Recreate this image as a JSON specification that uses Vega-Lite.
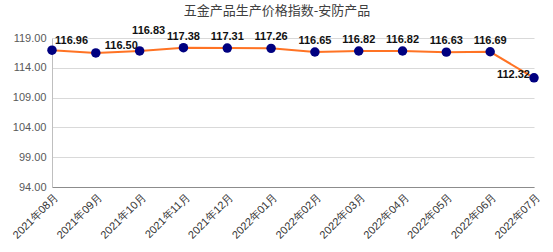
{
  "$schema": "https://vega.github.io/schema/vega-lite/v6.json",
  "width": 482,
  "height": 149,
  "autosize": {"type": "none"},
  "padding": {"left": 52, "top": 38, "right": 19, "bottom": 65},
  "background": "white",
  "title": {
    "text": "五金产品生产价格指数-安防产品",
    "font": "Noto Sans CJK SC",
    "fontSize": 13,
    "fontWeight": "normal",
    "color": "#404040",
    "anchor": "middle",
    "dx": -16,
    "offset": 7
  },
  "config": {"view": {"stroke": null}},
  "data": {
    "values": [
      {"month": "2021年08月", "value": 116.96},
      {"month": "2021年09月", "value": 116.50},
      {"month": "2021年10月", "value": 116.83},
      {"month": "2021年11月", "value": 117.38},
      {"month": "2021年12月", "value": 117.31},
      {"month": "2022年01月", "value": 117.26},
      {"month": "2022年02月", "value": 116.65},
      {"month": "2022年03月", "value": 116.82},
      {"month": "2022年04月", "value": 116.82},
      {"month": "2022年05月", "value": 116.63},
      {"month": "2022年06月", "value": 116.69},
      {"month": "2022年07月", "value": 112.32}
    ]
  },
  "encoding": {
    "x": {
      "field": "month",
      "type": "ordinal",
      "sort": null,
      "scale": {"type": "point", "padding": 0},
      "axis": {
        "title": null,
        "labelAngle": -45,
        "labelFont": "Liberation Sans",
        "labelFontSize": 11,
        "labelColor": "#333333",
        "ticks": false,
        "domainColor": "#8c8c8c",
        "labelPadding": 4,
        "grid": false
      }
    },
    "y": {
      "field": "value",
      "type": "quantitative",
      "scale": {"domain": [94, 119], "nice": false, "zero": false},
      "axis": {
        "title": null,
        "values": [94, 99, 104, 109, 114, 119],
        "format": ".2f",
        "labelFont": "Liberation Sans",
        "labelFontSize": 11,
        "labelColor": "#595959",
        "ticks": false,
        "labelPadding": 6,
        "domainColor": "#bfbfbf",
        "gridColor": "#d9d9d9",
        "gridWidth": 1
      }
    }
  },
  "layer": [
    {"mark": {"type": "line", "color": "#FF7324", "strokeWidth": 2}},
    {"mark": {"type": "point", "filled": true, "color": "#000080", "size": 90, "opacity": 1}},
    {
      "transform": [{"filter": "datum.month != '2021年08月' && datum.month != '2021年09月' && datum.month != '2021年10月' && datum.month != '2022年07月'"}],
      "mark": {"type": "text", "font": "Liberation Sans", "fontSize": 11, "fontWeight": "bold", "color": "#111111", "dy": -11, "baseline": "middle", "align": "center"},
      "encoding": {"text": {"field": "value", "type": "quantitative", "format": ".2f"}}
    },
    {
      "transform": [{"filter": "datum.month == '2021年08月'"}],
      "mark": {"type": "text", "font": "Liberation Sans", "fontSize": 11, "fontWeight": "bold", "color": "#111111", "dx": 3, "dy": -9, "baseline": "middle", "align": "left"},
      "encoding": {"text": {"field": "value", "type": "quantitative", "format": ".2f"}}
    },
    {
      "transform": [{"filter": "datum.month == '2021年09月'"}],
      "mark": {"type": "text", "font": "Liberation Sans", "fontSize": 11, "fontWeight": "bold", "color": "#111111", "dx": 9, "dy": -7, "baseline": "middle", "align": "left"},
      "encoding": {"text": {"field": "value", "type": "quantitative", "format": ".2f"}}
    },
    {
      "transform": [{"filter": "datum.month == '2021年10月'"}],
      "mark": {"type": "text", "font": "Liberation Sans", "fontSize": 11, "fontWeight": "bold", "color": "#111111", "dx": 9, "dy": -20, "baseline": "middle", "align": "center"},
      "encoding": {"text": {"field": "value", "type": "quantitative", "format": ".2f"}}
    },
    {
      "transform": [{"filter": "datum.month == '2022年07月'"}],
      "mark": {"type": "text", "font": "Liberation Sans", "fontSize": 11, "fontWeight": "bold", "color": "#111111", "dx": -4, "dy": -3, "baseline": "middle", "align": "right"},
      "encoding": {"text": {"field": "value", "type": "quantitative", "format": ".2f"}}
    }
  ]
}
